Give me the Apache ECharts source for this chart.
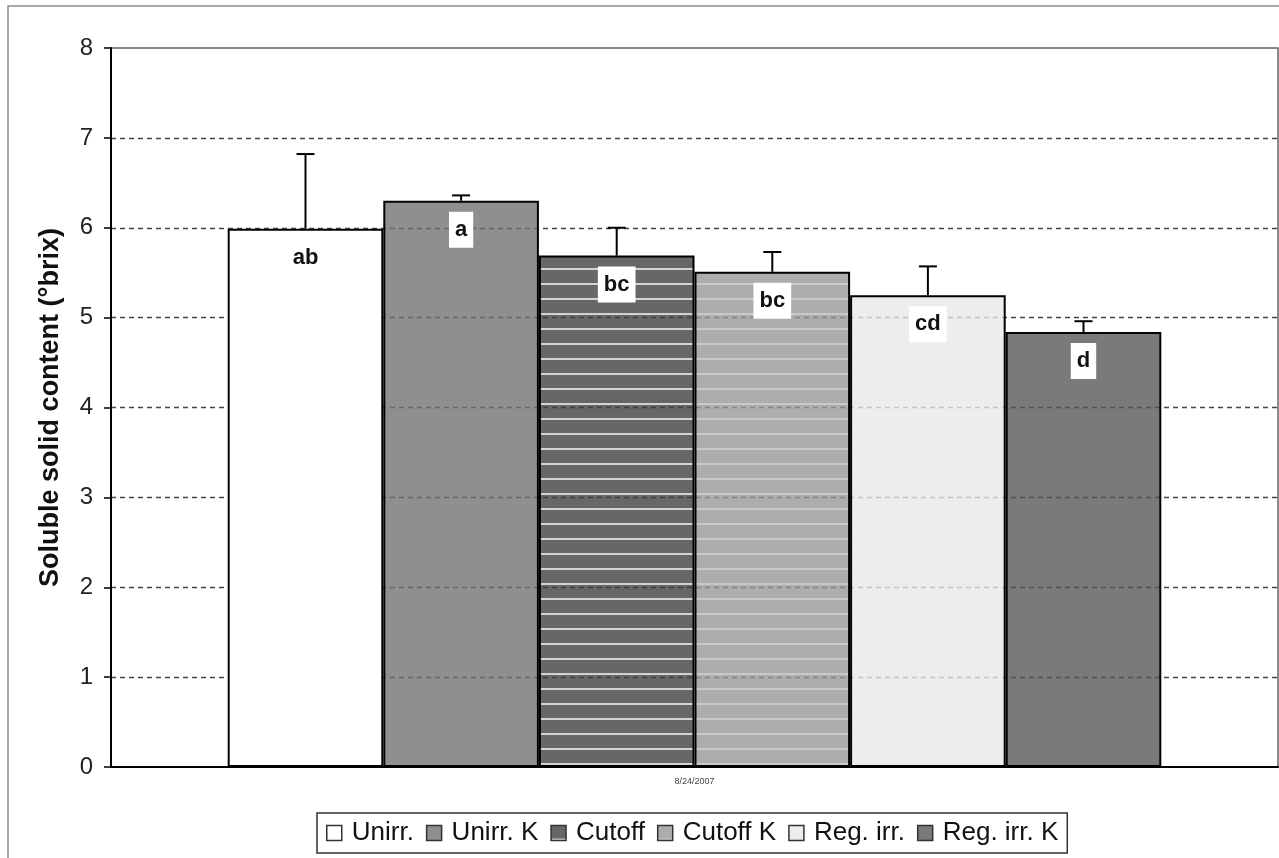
<!DOCTYPE html>
<html>
<head>
<meta charset="utf-8">
<script src="https://cdn.jsdelivr.net/npm/echarts@6/dist/echarts.min.js"></script>
<style>
  html, body { margin: 0; padding: 0; background: #fff; }
  #chart { width: 1279px; height: 858px; }
</style>
</head>
<body>
<div id="chart"></div>
<script>
// data
const dates = ['8/24/2007'];
const seriesNames = ['Unirr.', 'Unirr. K', 'Cutoff', 'Cutoff K', 'Reg. irr.', 'Reg. irr. K'];
const means = [5.99, 6.30, 5.69, 5.51, 5.25, 4.84];
const errors = [0.83, 0.06, 0.31, 0.22, 0.32, 0.12];
const letters = ['ab', 'a', 'bc', 'bc', 'cd', 'd'];

// fills are a bit see-through so the dashed grid shows through the grey bars
const fills = ['#ffffff', 'rgba(112,112,112,0.78)', 'rgba(60,60,60,0.78)', 'rgba(150,150,150,0.78)', 'rgba(232,232,232,0.78)', 'rgba(84,84,84,0.78)'];
const stripes = [null, null, 'rgba(198,198,198,0.78)', 'rgba(186,186,186,0.78)', null, null];
const groupShare = 0.8; // bars take 80% of the category band

// horizontal stripe fill, like the excel pattern
function stripeFill(bg, line) {
  const c = document.createElement('canvas');
  c.width = 8; c.height = 15;
  const ctx = c.getContext('2d');
  ctx.fillStyle = bg;
  ctx.fillRect(0, 0, 8, 13);
  ctx.fillStyle = line;
  ctx.fillRect(0, 13, 8, 2);
  return { image: c, repeat: 'repeat' };
}

const chart = echarts.init(document.getElementById('chart'));

const barSeries = seriesNames.map((name, i) => ({
  name: name,
  type: 'bar',
  barGap: '0%',
  barCategoryGap: '20%',
  data: [means[i]],
  z: 2,
  itemStyle: {
    color: stripes[i] ? stripeFill(fills[i], stripes[i]) : fills[i],
    borderColor: '#000',
    borderWidth: 2
  },
  label: {
    show: true,
    position: 'insideTop',
    distance: 11,
    formatter: () => letters[i],
    backgroundColor: '#fff',
    padding: [7, 6, 7, 6],
    fontFamily: 'Liberation Sans, Arial, sans-serif',
    fontWeight: 'bold',
    fontSize: 22,
    color: '#111'
  }
}));

// error bars, one per treatment, placed inside the shared category band
const errSeries = {
  name: 'err',
  type: 'custom',
  z: 5,
  silent: true,
  encode: { x: 0, y: 1 },
  data: means.map((m, i) => [0, m, errors[i], i]),
  renderItem: function (params, api) {
    const base = api.coord([api.value(0), api.value(1)]);
    const top = api.coord([api.value(0), api.value(1) + api.value(2)]);
    const band = api.size([1, 0])[0];
    const groupW = band * groupShare;
    const bw = groupW / seriesNames.length;
    const x = base[0] - groupW / 2 + (api.value(3) + 0.5) * bw;
    const st = { stroke: '#000', lineWidth: 2 };
    return {
      type: 'group',
      children: [
        { type: 'line', shape: { x1: x, y1: base[1], x2: x, y2: top[1] }, style: st },
        { type: 'line', shape: { x1: x - 9, y1: top[1], x2: x + 9, y2: top[1] }, style: st }
      ]
    };
  }
};

const option = {
  animation: false,
  graphic: [{
    type: 'rect',
    shape: { x: 8, y: 6, width: 1300, height: 900 },
    style: { fill: 'none', stroke: '#8a8a8a', lineWidth: 1.5 },
    silent: true
  }],
  grid: {
    left: 111,
    top: 48,
    right: 1,
    bottom: 91,
    show: true,
    borderColor: '#666',
    borderWidth: 1.5
  },
  legend: {
    data: seriesNames,
    bottom: 5,
    left: 317,
    icon: 'rect',
    itemWidth: 15,
    itemHeight: 15,
    itemGap: 12,
    borderColor: '#333',
    borderWidth: 1.5,
    padding: [7, 9, 7, 9],
    itemStyle: { borderColor: '#333', borderWidth: 1.5 },
    textStyle: {
      fontFamily: 'Liberation Sans, Arial, sans-serif',
      fontSize: 26,
      color: '#111',
      padding: [0, 0, 0, 5]
    }
  },
  xAxis: {
    type: 'category',
    data: dates,
    axisLine: { lineStyle: { color: '#000', width: 2 } },
    axisTick: { show: false },
    axisLabel: { fontSize: 9, color: '#444', margin: 10, fontFamily: 'Liberation Sans, Arial' },
    splitLine: { show: false }
  },
  yAxis: {
    type: 'value',
    min: 0,
    max: 8,
    interval: 1,
    name: 'Soluble solid content (°brix)',
    nameLocation: 'middle',
    nameRotate: 90,
    nameGap: 47,
    nameTextStyle: {
      fontFamily: 'Liberation Sans, Arial, sans-serif',
      fontWeight: 'bold',
      fontSize: 27,
      color: '#111'
    },
    axisLine: { show: true, lineStyle: { color: '#000', width: 2 } },
    axisTick: { show: true, inside: false, length: 7, lineStyle: { color: '#000', width: 1.5 } },
    axisLabel: {
      fontFamily: 'Liberation Sans, Arial, sans-serif',
      fontSize: 24,
      color: '#222',
      margin: 18
    },
    splitLine: {
      show: true,
      showMaxLine: false,
      showMinLine: false,
      lineStyle: { color: '#444', type: [5, 4], width: 1.3 }
    }
  },
  series: barSeries.concat([errSeries])
};

chart.setOption(option);
</script>
</body>
</html>
